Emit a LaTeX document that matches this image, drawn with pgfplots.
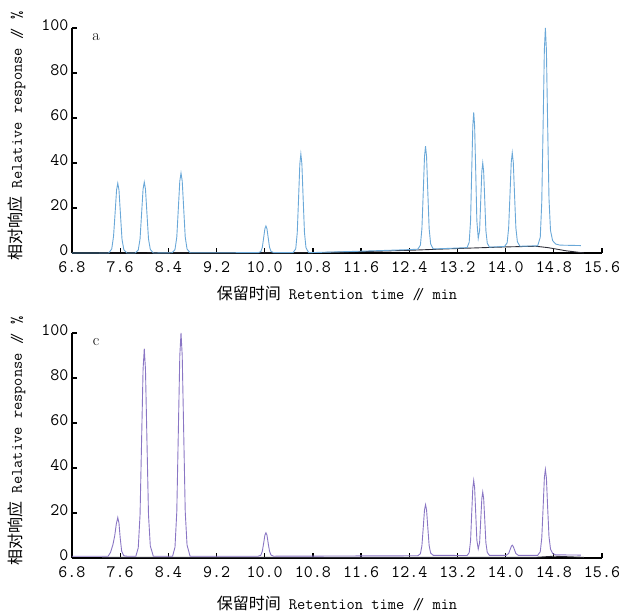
\documentclass[border=0pt]{standalone}
\usepackage{pgfplots}
\pgfplotsset{compat=1.18}
\usepackage{fontspec}
\newfontfamily\cjk{Noto Sans CJK SC}
\definecolor{cblue}{RGB}{106,168,216}
\definecolor{cpurple}{RGB}{138,118,196}
\definecolor{cdark}{RGB}{45,45,55}
\newcommand{\fs}{\fontsize{16}{18}\selectfont}
\newcommand{\ft}{\fontsize{17.5}{19}\selectfont}
\pgfplotsset{
  chrom/.style={
    scale only axis, width=530pt, height=225pt,
    xmin=6.8, xmax=15.6, ymin=0, ymax=100,
    axis x line=bottom, axis y line=left,
    axis line style={line width=1.5pt,-},
    tick style={line width=1.2pt,black},
    tick align=inside, major tick length=5pt,
    xtick={6.8,7.6,8.4,9.2,10.0,10.8,11.6,12.4,13.2,14.0,14.8,15.6},
    xticklabels={6.8,7.6,8.4,9.2,10.0,10.8,11.6,12.4,13.2,14.0,14.8,15.6},
    ytick={0,20,40,60,80,100},
    yticklabels={0,20,40,60,80,100},
    ticklabel style={font=\ttfamily\ft},
    xticklabel style={yshift=-5pt},
    yticklabel style={yshift=2.5pt},
    label style={font=\ttfamily\fs},
    xlabel={{\cjk 保留时间} Retention time /\kern-0.3em/ min},
    ylabel={{\cjk 相对响应} Relative response /\kern-0.3em/ \%},
    ylabel style={at={(axis description cs:-0.104,0.52)},anchor=center},
    clip=false,
  }
}
\begin{document}
\begin{tikzpicture}
\begin{axis}[chrom, at={(0,0)}, anchor=south west,
  xlabel style={at={(axis description cs:0.5,-0.178)},anchor=center}]
\addplot[cdark, line width=0.9pt] coordinates {(7.25,0)(10.8,0.1)(11.6,0.6)(12.4,1.2)(13.2,2.0)(14.0,2.7)(14.5,3.0)(14.7,2.4)(15.0,1.0)(15.3,0)};
\addplot[cblue, line width=0.9pt] coordinates {
(6.8,0)(7.3,0)(7.41,0)(7.46,1.8)(7.49,7.5)(7.515,17.5)(7.54,28)(7.56,31)(7.58,28)(7.605,17)(7.63,6.2)(7.66,1.5)(7.71,0)
(7.85,0)(7.90,1.3)(7.93,6.3)(7.955,17.3)(7.98,28.4)(8.00,31.5)(8.02,28.4)(8.045,17.3)(8.07,6.3)(8.10,1.6)(8.15,0)
(8.46,0.1)(8.51,1.5)(8.54,7.1)(8.565,19.5)(8.59,32)(8.61,35.5)(8.63,32)(8.655,19.5)(8.68,7.1)(8.71,1.8)(8.76,0.1)
(9.892,0.15)(9.935,0.6)(9.96,2.5)(9.982,6.7)(10.003,10.8)(10.02,12)(10.037,10.8)(10.058,6.7)(10.08,2.5)(10.105,0.7)(10.148,0.15)
(10.472,0.2)(10.515,1.9)(10.54,9)(10.562,24.3)(10.583,39.6)(10.60,44)(10.617,39.6)(10.638,24.3)(10.66,9)(10.685,2.4)(10.728,0.2)
(10.8,0.2)(11.6,0.8)(12.4,1.5)
(12.542,1.7)(12.585,3.5)(12.61,10.9)(12.632,26.9)(12.653,42.9)(12.67,47.5)(12.687,42.9)(12.708,26.9)(12.73,10.9)(12.755,4)(12.798,1.8)
(13.2,2.2)
(13.36,2.4)(13.395,4.8)(13.418,14.4)(13.436,35.5)(13.455,56.5)(13.47,62.5)(13.485,56.5)(13.504,35.5)(13.522,14.4)(13.545,6.5)(13.568,10)(13.586,23)(13.605,36.3)(13.62,40)(13.635,36.3)(13.654,23)(13.672,10)(13.695,4.4)(13.73,2.6)
(13.982,2.9)(14.025,4.5)(14.05,11.2)(14.072,25.8)(14.093,40.3)(14.11,44.5)(14.127,40.3)(14.148,25.8)(14.17,11.2)(14.195,5)(14.238,3.0)
(14.532,3.2)(14.575,7)(14.6,22.6)(14.622,56.4)(14.643,90.3)(14.66,100)(14.677,90.3)(14.698,56.4)(14.72,24)(14.745,10)(14.78,5.5)(14.83,4)(14.9,3.5)(15.25,3.3)};
\node[font=\rmfamily\fs] at (axis cs:7.2,96) {a};
\end{axis}
\begin{axis}[chrom, at={(0,-305pt)}, anchor=south west,
  xlabel style={at={(axis description cs:0.5,-0.2)},anchor=center}]
\addplot[cdark, line width=0.9pt] coordinates {(7.3,0.3)(14.5,0.3)(14.8,0.8)(15.3,0.3)};
\addplot[cpurple, line width=0.9pt] coordinates {
(6.8,0.8)(7.40,0.8)(7.44,2.5)(7.48,6)(7.51,10)(7.535,15)(7.56,18)(7.58,15.5)(7.60,9)(7.625,3)(7.66,1)(7.71,0.8)
(7.86,0.8)(7.90,4.5)(7.93,19.3)(7.955,51.5)(7.98,83.8)(8.00,93)(8.02,83.8)(8.045,51.5)(8.07,19.3)(8.10,5.4)(8.15,0.8)
(8.47,0.8)(8.51,4.8)(8.54,20.6)(8.565,55.4)(8.59,90)(8.61,100)(8.63,90)(8.655,55.4)(8.68,20.6)(8.71,5.8)(8.76,0.8)
(9.892,0.8)(9.935,1.2)(9.96,3)(9.982,6.5)(10.003,10.2)(10.02,11.2)(10.037,10.2)(10.058,6.5)(10.08,3)(10.105,1.3)(10.148,0.8)
(12.542,1)(12.585,1.9)(12.61,5.5)(12.632,13.5)(12.653,21.4)(12.67,23.7)(12.687,21.4)(12.708,13.5)(12.73,5.5)(12.755,2.2)(12.798,1.2)
(13.36,1.1)(13.395,2.4)(13.418,7.8)(13.436,19.5)(13.455,31.2)(13.47,34.5)(13.485,31.2)(13.504,19.5)(13.522,8)(13.545,4)(13.568,6.8)(13.586,16.6)(13.605,26.5)(13.62,29.3)(13.635,26.5)(13.654,16.6)(13.672,6.8)(13.695,2.5)(13.73,1.2)
(14.01,1.2)(14.05,2.0)(14.075,3.8)(14.095,5.2)(14.11,5.7)(14.125,5.2)(14.145,3.8)(14.17,2.0)(14.21,1.2)
(14.532,1.2)(14.575,2.8)(14.6,8.9)(14.622,22.2)(14.643,35.6)(14.66,39.4)(14.677,35.6)(14.698,22.2)(14.72,9.5)(14.745,4)(14.78,2)(14.83,1.4)(15.25,1.3)};
\node[font=\rmfamily\fs] at (axis cs:7.2,96) {c};
\end{axis}
\pgfresetboundingbox
\path[use as bounding box] (-72pt,253pt) rectangle (548pt,-362pt);
\end{tikzpicture}
\end{document}
